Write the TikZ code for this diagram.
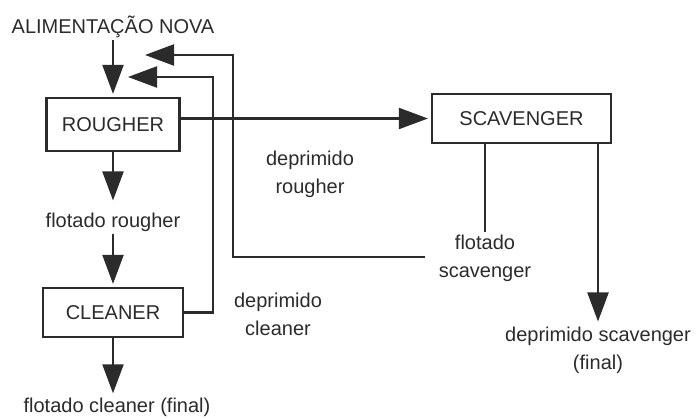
\documentclass[tikz,border=0pt]{standalone}
\usepackage{fontspec}
\setmainfont{Liberation Sans}
\usepackage{xcolor}
\usepackage{tikz}
\usetikzlibrary{arrows.meta, positioning, calc}
\definecolor{ink}{HTML}{2B2B2B}

\begin{document}
\begin{tikzpicture}[
    x=1pt, y=-1pt,
    every node/.style={font=\fontsize{20}{28}\selectfont, text=ink, align=center, inner sep=2pt},
    unit/.style={rectangle, draw=ink, fill=white, line width=2.2pt},
    arrow/.style={-{Triangle[length=29pt, width=21pt]}, line width=2.2pt, draw=ink, shorten >=3pt},
    flow/.style={line width=2.2pt, draw=ink}
]
\useasboundingbox (0,0) rectangle (697,419);

% Feed
\node (feed) [anchor=base] at (113,34) {ALIMENTAÇÃO NOVA};

% Flotation stages
\node (rougher) [unit, minimum width=133pt, minimum height=53pt] at (113,124.5) {ROUGHER};
\node (scav) [unit, minimum width=179pt, minimum height=49pt] at (521.5,118.5) {SCAVENGER};
\node (cleaner) [unit, minimum width=140pt, minimum height=49pt] at (113,312.5) {CLEANER};

% Stream labels
\node (flotrough) at (113,222) {flotado rougher};
\node (flotclean) [anchor=base] at (117,413) {flotado cleaner (final)};
\node (deprough) at (310,174) {deprimido\\rougher};
\node (depclean) at (278,314) {deprimido\\cleaner};
\node (flotscav) at (485,258) {flotado\\scavenger};
\node (depscav) at (598,350) {deprimido scavenger\\(final)};

% Return points
\coordinate (ret1) at (425,257);
\coordinate (bend1) at (233,55);
\coordinate (in1) at (142,55);
\coordinate (bend2) at (213,77);
\coordinate (in2) at (125,77);

% Main streams
\draw [arrow] (rougher.north |- feed.south) -- (rougher.north);
\draw [arrow, shorten >=10pt] (rougher.south) -- (flotrough.north);
\draw [arrow] (flotrough.south) -- (cleaner.north);
\draw [arrow] (cleaner.south) -- (cleaner.south |- flotclean.north);
\draw [arrow] (rougher.east |- scav.west) -- (scav.west);

% Scavenger products
\draw [flow] (scav.south -| flotscav.north) -- (flotscav.north);
\draw [arrow] (scav.south -| depscav.north) -- (depscav.north);

% Recycles
\draw [arrow] (ret1) -| (bend1) -- (in1);
\draw [arrow] (cleaner.east) -| (bend2) -- (in2);

\end{tikzpicture}
\end{document}
